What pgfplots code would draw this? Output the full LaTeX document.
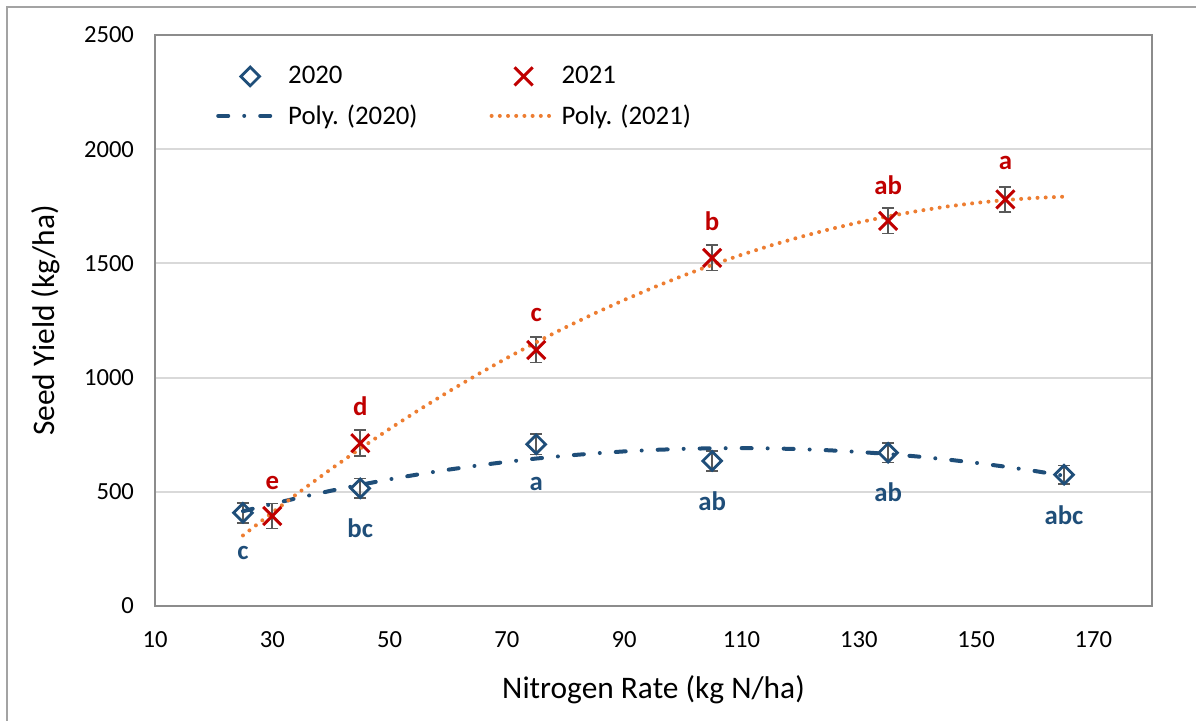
\documentclass[border=0pt]{standalone}
\usepackage{fontspec}
\setmainfont{Carlito}
\usepackage{pgfplots}
\pgfplotsset{compat=1.18}
\definecolor{blueA}{HTML}{1F4E79}
\definecolor{redA}{HTML}{C00000}
\definecolor{orangeA}{HTML}{ED7D31}
\definecolor{gridc}{HTML}{D9D9D9}
\definecolor{framec}{HTML}{8C8C8C}
\definecolor{errc}{HTML}{595959}

\pgfplotstableread{
x y e
25 408 43
45 515 43
75 708 45
105 635 43
135 671 43
165 575 40
}\dataA
\pgfplotstableread{
x y e
30 394 55
45 713 57
75 1121 55
105 1524 55
135 1686 55
155 1780 56
}\dataB
\pgfplotstableread{
x y
25 415.0
30 446.9
35 476.7
40 504.6
45 530.6
50 554.6
55 576.7
60 596.8
65 615.0
70 631.3
75 645.6
80 657.9
85 668.3
90 676.8
95 683.3
100 687.9
105 690.5
110 691.2
115 690.0
120 686.8
125 681.6
130 674.5
135 665.5
140 654.5
145 641.6
150 626.7
155 609.9
160 591.1
165 570.4
}\polyA
\pgfplotstableread{
x y
25 308.8
30 409.1
35 506.0
40 599.4
45 689.2
50 775.6
55 858.4
60 937.7
65 1013.5
70 1085.8
75 1154.6
80 1219.9
85 1281.6
90 1339.9
95 1394.6
100 1445.8
105 1493.5
110 1537.7
115 1578.4
120 1615.6
125 1649.2
130 1679.4
135 1706.0
140 1729.1
145 1748.8
150 1764.9
155 1777.4
160 1786.5
165 1792.1
}\polyB
\pgfplotstableread{
x y lab
25 232 c
45 341 bc
75 534 a
105 460 ab
135 499 ab
165 398 abc
}\labA
\pgfplotstableread{
x y lab
30 538 e
45 875 d
75 1274 c
105 1686 b
135 1843 ab
155 1939 a
}\labB

\begin{document}
\begin{tikzpicture}
\useasboundingbox (-77.5pt,-57.5pt) rectangle (520.5pt,303pt);
\draw[framec!80, line width=0.8pt] (-74pt,-60pt) -- (-74pt,299.5pt) -- (523pt,299.5pt);
\begin{axis}[
  at={(0pt,0pt)}, anchor=south west,
  scale only axis, width=498.5pt, height=285.5pt,
  xmin=10, xmax=180, ymin=0, ymax=2500,
  xtick={10,30,...,170}, ytick={0,500,...,2500},
  major tick length=0pt,
  ymajorgrids, grid style={gridc, line width=1pt},
  axis line style={framec, line width=1.3pt},
  tick label style={font=\fontsize{12.3}{14}\selectfont, black},
  /pgf/number format/assume math mode=true,
  /pgf/number format/set thousands separator={},
  yticklabel style={xshift=-7pt},
  xticklabel style={yshift=-9pt},
  xlabel={Nitrogen Rate (kg N/ha)},
  ylabel={Seed Yield (kg/ha)},
  label style={font=\fontsize{15.7}{18}\selectfont, black},
  xlabel style={at={(axis description cs:0.5,-0.147)}, anchor=center},
  ylabel style={at={(axis description cs:-0.110,0.5)}, anchor=center},
  clip=false,
  legend columns=2,
  legend cell align=left,
  legend image code/.code={\draw[mark repeat=2,mark phase=2,#1] plot coordinates {(0pt,0pt) (16pt,0pt) (32pt,0pt)};},
  legend style={draw=none, fill=none, at={(axis description cs:0.055,0.96)}, anchor=north west,
    font=\fontsize{13.4}{15}\selectfont, row sep=5pt,
    /tikz/every even column/.append style={column sep=34pt}},
]
\addplot[only marks, mark=square, mark size=3.3pt, mark options={blueA, line width=1.4pt, rotate=45, fill=white},
  error bars/.cd, y dir=both, y explicit,
  error bar style={errc, line width=0.9pt}, error mark options={errc, mark size=3pt, line width=0.9pt, rotate=90}]
  table[x=x, y=y, y error=e] {\dataA};
\addlegendentry{2020}
\addplot[only marks, mark=x, mark size=6.4pt, mark options={redA, line width=1.5pt},
  error bars/.cd, y dir=both, y explicit,
  error bar style={errc, line width=0.9pt}, error mark options={errc, mark size=3pt, line width=0.9pt, rotate=90}]
  table[x=x, y=y, y error=e] {\dataB};
\addlegendentry{2021}
\addplot[blueA, line width=2pt, line cap=round, dash pattern=on 5pt off 8pt on 0pt off 8pt, mark=none] table[x=x,y=y] {\polyA};
\addlegendentry{Poly. (2020)}
\addplot[orangeA, line width=2pt, line cap=round, dash pattern=on 0pt off 4.1pt, mark=none] table[x=x,y=y] {\polyB};
\addlegendentry{Poly. (2021)}
\addplot[forget plot, only marks, mark=none, nodes near coords, point meta=explicit symbolic,
  nodes near coords style={anchor=center, inner sep=0pt, text=blueA, font=\bfseries\fontsize{13.4}{15}\selectfont}]
  table[x=x, y=y, meta=lab] {\labA};
\addplot[forget plot, only marks, mark=none, nodes near coords, point meta=explicit symbolic,
  nodes near coords style={anchor=center, inner sep=0pt, text=redA, font=\bfseries\fontsize{13.4}{15}\selectfont}]
  table[x=x, y=y, meta=lab] {\labB};
\end{axis}
\end{tikzpicture}
\end{document}
